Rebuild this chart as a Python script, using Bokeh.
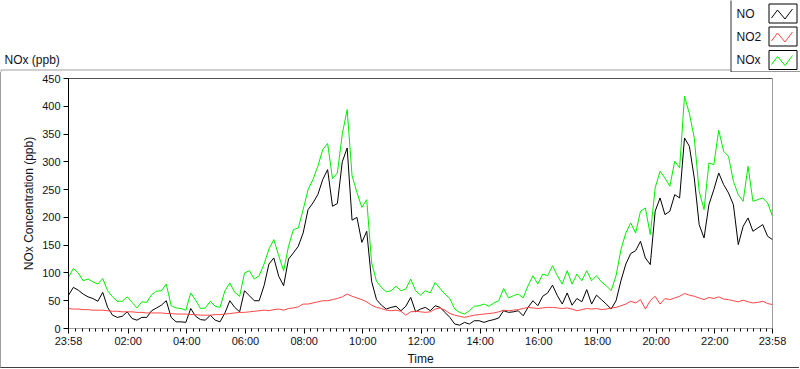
from bokeh.plotting import figure
from bokeh.layouts import column
from bokeh.models import ColumnDataSource, Range1d, FixedTicker, Span
from bokeh.embed import file_html
from bokeh.resources import INLINE
from bokeh.core.properties import value

# ---------------- data (10-minute samples, starting 23:58 of previous day) ----------------
step_minutes = 10
start_minute = -2

nox = [92, 108, 100, 86, 89, 84, 80, 90, 68, 57,
       49, 49, 57, 47, 37, 48, 47, 61, 67, 68,
       80, 41, 37, 36, 33, 64, 51, 36, 37, 49,
       40, 38, 68, 82, 65, 58, 100, 104, 89, 95,
       116, 143, 160, 131, 104, 148, 178, 181, 214, 250,
       268, 292, 322, 333, 270, 280, 350, 394, 275, 245,
       218, 232, 118, 85, 74, 66, 68, 76, 68, 71,
       89, 68, 60, 68, 64, 83, 72, 62, 54, 35,
       29, 26, 32, 40, 41, 44, 40, 46, 50, 72,
       55, 59, 62, 55, 77, 95, 80, 98, 95, 113,
       95, 80, 104, 80, 98, 86, 104, 86, 95, 84,
       77, 68, 95, 142, 172, 190, 172, 211, 217, 169,
       253, 283, 271, 256, 301, 289, 418, 387, 343, 247,
       214, 298, 295, 357, 319, 310, 265, 241, 229, 292,
       229, 232, 235, 226, 202]

no = [60, 74, 69, 62, 57, 54, 49, 65, 38, 24,
      20, 22, 30, 18, 15, 20, 20, 32, 37, 42,
      50, 20, 12, 12, 11, 36, 22, 16, 15, 24,
      15, 12, 28, 50, 38, 30, 68, 59, 50, 50,
      77, 116, 127, 94, 77, 125, 136, 148, 172, 214,
      226, 241, 268, 286, 220, 225, 300, 325, 195, 200,
      155, 175, 85, 52, 42, 35, 38, 40, 32, 40,
      56, 30, 35, 38, 32, 41, 38, 29, 20, 8,
      6, 11, 8, 14, 14, 11, 14, 16, 19, 32,
      29, 30, 32, 23, 38, 50, 41, 58, 64, 78,
      59, 44, 64, 42, 54, 48, 70, 44, 60, 52,
      44, 35, 50, 86, 116, 135, 140, 157, 127, 115,
      211, 235, 205, 211, 241, 235, 343, 328, 271, 187,
      163, 223, 250, 280, 259, 244, 223, 151, 184, 199,
      175, 181, 187, 166, 160]

no2 = [36, 35, 35, 34, 34, 33, 33, 33, 32, 31,
       31, 30, 30, 30, 29, 29, 28, 28, 28, 28,
       27, 27, 26, 26, 26, 25, 25, 24, 24, 24,
       25, 25, 26, 27, 28, 29, 29, 30, 31, 32,
       33, 32, 34, 35, 33, 36, 37, 39, 44, 44,
       46, 48, 50, 50, 52, 54, 57, 62, 58, 55,
       52, 48, 42, 38, 36, 33, 32, 33, 31, 24,
       30, 31, 30, 29, 30, 35, 37, 33, 27, 24,
       22, 20, 22, 24, 25, 26, 27, 28, 30, 33,
       32, 33, 34, 36, 38, 37, 36, 37, 38, 38,
       37, 36, 37, 35, 32, 34, 36, 35, 36, 34,
       35, 37, 38, 41, 44, 49, 46, 52, 35, 50,
       58, 44, 54, 52, 55, 58, 63, 60, 58, 55,
       52, 56, 54, 57, 53, 52, 50, 48, 51, 48,
       46, 47, 49, 45, 43]

series_names = ["NO", "NO2", "NOx"]
series_keys = ["no", "no2", "nox"]
series_colors = ["#000000", "#ff4545", "#00ee00"]

x_tick_minutes = [-2, 120, 240, 360, 480, 600, 720, 840, 960, 1080, 1200, 1320, 1438]
x_tick_labels = ["23:58", "02:00", "04:00", "06:00", "08:00", "10:00", "12:00",
                 "14:00", "16:00", "18:00", "20:00", "22:00", "23:58"]
y_ticks = [0, 50, 100, 150, 200, 250, 300, 350, 400, 450]

graph_title = "NOx (ppb)"
x_title = "Time"
y_title = "NOx Concentration (ppb)"

FONT = "Liberation Sans"
TXT = "#111122"
W = 800
TOP_H = 72
MAIN_H = 369 - TOP_H

# ---------------- header strip: graph caption + legend (pixel coordinates) ----------------
top = figure(width=W, height=TOP_H, output_backend="svg", toolbar_location=None,
             x_range=Range1d(0, W), y_range=Range1d(TOP_H, 0),
             x_axis_location=None, y_axis_location=None,
             min_border=0, min_border_left=0, min_border_right=0,
             min_border_top=0, min_border_bottom=0)
top.outline_line_color = None
top.grid.visible = False
top.background_fill_color = "white"
top.border_fill_color = "white"

# outer panel frame (top edge up to the legend, start of left edge)
top.segment(x0=[0, 0.5], y0=[69.5, 69.5], x1=[730, 0.5], y1=[69.5, TOP_H],
            line_color="#a0a0a0", line_width=1)
top.text(x=[4], y=[59], text=[graph_title], text_font=value(FONT),
         text_font_size="12px", text_color=TXT, text_baseline="middle", text_align="left")

# legend panel
top.quad(left=[730.5], right=[W + 5], top=[-5], bottom=[71.5],
         fill_color="white", line_color="#303030", line_width=1)
box_tops = [3.5, 26.5, 50.0]
box_h = 19
top.quad(left=[768.5] * 3, right=[796.5] * 3, top=box_tops,
         bottom=[b + box_h for b in box_tops],
         fill_color="white", line_color="#000000", line_width=1)
top.text(x=[736] * 3, y=[b + 9.5 for b in box_tops], text=series_names,
         text_font=value(FONT), text_font_size="12px", text_color=TXT,
         text_baseline="middle", text_align="left")
zig_dx = [2.5, 8.5, 16.0, 23.5]
zig_dy = [14.0, 6.0, 15.0, 5.0]
top.multi_line(xs=[[768.5 + d for d in zig_dx] for _ in box_tops],
               ys=[[b + d for d in zig_dy] for b in box_tops],
               line_color=series_colors, line_width=1)

# ---------------- main graph ----------------
t = [start_minute + step_minutes * k for k in range(len(nox))]
src = ColumnDataSource(dict(t=t, no=no, no2=no2, nox=nox))

p = figure(width=W - 1, height=MAIN_H - 1, output_backend="svg", toolbar_location=None,
           x_range=Range1d(x_tick_minutes[0], x_tick_minutes[-1]),
           y_range=Range1d(y_ticks[0], y_ticks[-1]))
p.styles = {"border-left": "1px solid #a0a0a0", "border-bottom": "1px solid #404040"}
p.min_border_left = 67
p.min_border_right = 28
p.min_border_top = 6
p.min_border_bottom = 38
p.background_fill_color = "white"
p.border_fill_color = "white"
p.outline_line_color = "#a0a0a0"
p.xgrid.visible = False
p.ygrid.visible = False

# keep the header strip's frame independent of the graph's frame
for fig in (top, p):
    try:
        fig.frame_align = False
    except Exception:
        pass

for key in ["nox", "no", "no2"]:
    c = series_colors[series_keys.index(key)]
    p.line("t", key, source=src, line_color=c, line_width=1)

# x axis
minor = []
for m in range(-8, 99):
    if m % 9 != 0:
        minor.append(120 + m * 40 / 3)
xa = p.xaxis[0]
xa.ticker = FixedTicker(ticks=x_tick_minutes, minor_ticks=minor)
xa.major_label_overrides = {k: v for k, v in zip(x_tick_minutes, x_tick_labels)}
xa.axis_line_color = "#a0a0a0"
xa.major_tick_line_color = "#000000"
xa.minor_tick_line_color = "#000000"
xa.major_tick_in = 0
xa.major_tick_out = 5
xa.minor_tick_in = 0
xa.minor_tick_out = 3
xa.major_label_standoff = 1
xa.major_label_text_font = FONT
xa.major_label_text_font_size = "11px"
xa.major_label_text_color = TXT
xa.axis_label = x_title
xa.axis_label_text_font = FONT
xa.axis_label_text_font_size = "12px"
xa.axis_label_text_font_style = "normal"
xa.axis_label_text_color = TXT
xa.axis_label_standoff = 2

# y axis
ya = p.yaxis[0]
ya.ticker = FixedTicker(ticks=y_ticks, minor_ticks=[])
ya.axis_line_color = "#000000"
ya.major_tick_line_color = "#000000"
ya.minor_tick_line_color = None
ya.major_tick_in = 0
ya.major_tick_out = 5
ya.major_label_standoff = 3
ya.major_label_text_font = FONT
ya.major_label_text_font_size = "11px"
ya.major_label_text_color = TXT
ya.axis_label = y_title
ya.axis_label_text_font = FONT
ya.axis_label_text_font_size = "12px"
ya.axis_label_text_font_style = "normal"
ya.axis_label_text_color = TXT
ya.axis_label_standoff = 3

# top edge of the plot area in black
p.add_layout(Span(location=y_ticks[-1], dimension="width", line_color="#000000", line_width=1))

layout = column(top, p, spacing=0)
open("out.html", "w").write(file_html(layout, INLINE))
